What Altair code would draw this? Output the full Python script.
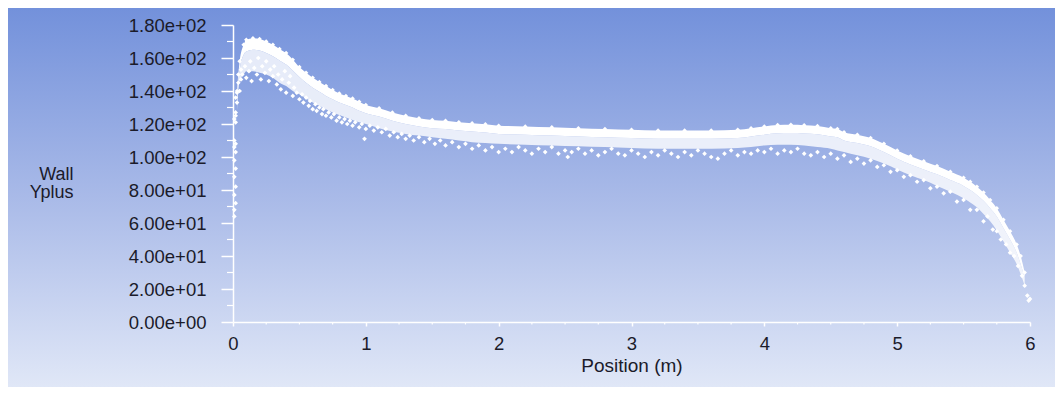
import altair as alt
import pandas as pd

# ---------------- data ----------------
# band of wall y+ values: upper edge, lower edge of the dense part, lower edge of the band
band_pos = [0.03, 0.05, 0.08, 0.10, 0.15, 0.20, 0.25, 0.30, 0.35, 0.40, 0.45, 0.50,
            0.55, 0.60, 0.65, 0.70, 0.75, 0.80, 0.85, 0.90, 0.95, 1.00, 1.10, 1.20,
            1.30, 1.40, 1.50, 1.60, 1.70, 1.80, 1.90, 2.00, 2.20, 2.40, 2.60, 2.80,
            3.00, 3.20, 3.40, 3.60, 3.80, 3.90, 4.00, 4.10, 4.20, 4.30, 4.40, 4.50,
            4.55, 4.60, 4.70, 4.80, 4.90, 5.00, 5.10, 5.20, 5.30, 5.40, 5.50, 5.55,
            5.60, 5.65, 5.70, 5.75, 5.80, 5.85, 5.90, 5.93, 5.96]
band_top = [140, 158, 168, 171, 172, 171.5, 170, 168, 165.5, 163, 159, 154.5,
            151, 148, 145.5, 143, 140.6, 138.5, 137, 135.5, 133.5, 131.5, 129.5, 127,
            125, 123.5, 122.5, 122, 121, 120.5, 119.8, 119, 118.5, 118, 117.5, 117,
            116.5, 116, 116, 116, 116.5, 117.5, 118.5, 119.4, 119.5, 119.3, 118.8, 117.5,
            117, 115, 113.5, 111.5, 108, 104, 100.5, 97.5, 94.5, 91, 87.5, 85,
            82, 78.5, 74, 69, 62, 55, 47, 40, 30]
band_mid = [136, 153, 162, 164, 165, 164.5, 163, 161, 158.5, 156, 152.5, 148.5,
            145, 142, 139.5, 137, 135, 133, 131.5, 130, 128, 126.5, 124.5, 122,
            120, 118.5, 117.5, 117, 116, 115.5, 114.8, 114, 113.5, 113, 112.5, 112,
            111.5, 111, 111, 111, 111.5, 112.5, 113.5, 114.4, 114.5, 114.3, 113.8, 112.5,
            112, 110, 108.5, 106.5, 103, 99, 95.5, 92.5, 89.5, 86, 82.5, 80,
            77, 73.5, 69, 64, 57, 50, 42, 35, 27]
band_low = [128, 146, 150, 152, 152, 151, 150, 148, 145, 143, 140, 138,
            135.5, 133, 131, 129, 127, 125.5, 124, 122.5, 121, 120, 117.5, 115.5,
            114, 113, 112, 111, 110, 109, 108.5, 108, 107.5, 107, 106.5, 106,
            105.5, 105, 105, 105, 105.5, 106, 107, 107.5, 107.5, 107, 106, 105,
            104, 103, 101, 99, 96, 92.5, 89, 86, 82.5, 79, 75, 72.5,
            69.5, 65.5, 61, 55.5, 49, 42, 35, 29, 22]

# scattered points below the band
speck_x = [0.01, 0.01, 0.02, 0.01, 0.02, 0.01, 0.02, 0.01, 0.02, 0.01, 0.02, 0.01,
           0.02, 0.01, 0.02, 0.02, 0.03, 0.02, 0.03, 0.04, 0.04, 0.05, 0.06, 0.06,
           0.07, 0.09, 0.10, 0.12, 0.13, 0.14, 0.16, 0.18, 0.19, 0.21, 0.22, 0.24,
           0.25, 0.27, 0.28, 0.30, 0.31, 0.33, 0.34, 0.36, 0.37, 0.39, 0.40, 0.42,
           0.43, 0.45, 0.46, 0.48, 0.50, 0.52, 0.53, 0.55, 0.57, 0.58, 0.60, 0.62,
           0.63, 0.65, 0.67, 0.68, 0.70, 0.72, 0.74, 0.76, 0.78, 0.80, 0.82, 0.84,
           0.86, 0.88, 0.90, 0.92, 0.95, 0.97, 0.99, 1.00, 1.03, 1.06, 1.09, 1.12,
           1.15, 1.18, 1.21, 1.24, 1.27, 1.30, 1.33, 1.36, 1.40, 1.44, 1.48, 1.52,
           1.56, 1.60, 1.65, 1.70, 1.75, 1.80, 1.85, 1.90, 1.95, 2.00, 2.05, 2.10,
           2.15, 2.20, 2.25, 2.30, 2.35, 2.40, 2.45, 2.50, 2.52, 2.55, 2.60, 2.65,
           2.70, 2.75, 2.80, 2.85, 2.90, 2.95, 3.00, 3.05, 3.10, 3.15, 3.20, 3.25,
           3.30, 3.35, 3.40, 3.45, 3.50, 3.55, 3.60, 3.65, 3.70, 3.75, 3.80, 3.85,
           3.90, 3.95, 4.00, 4.05, 4.10, 4.15, 4.20, 4.25, 4.30, 4.35, 4.40, 4.45,
           4.50, 4.55, 4.60, 4.65, 4.70, 4.75, 4.80, 4.85, 4.90, 4.95, 5.00, 5.05,
           5.10, 5.15, 5.20, 5.25, 5.30, 5.35, 5.40, 5.45, 5.50, 5.55, 5.60, 5.65,
           5.68, 5.72, 5.75, 5.78, 5.82, 5.85, 5.88, 5.91, 5.94, 5.96, 5.98, 6.00,
           5.99]
speck_y = [64, 68, 72, 77, 82, 88, 93, 98, 103, 106, 108, 110,
           121, 123, 125, 127, 133, 136, 139, 145, 150, 140, 153, 147,
           150, 155, 148, 152, 158, 146, 154, 150, 160, 147, 155, 151,
           158, 146, 153, 149, 155, 144, 150, 141, 147, 152, 139, 145,
           149, 137, 142, 139, 135, 138, 133, 136, 131, 134, 129, 132,
           128, 130, 126, 129, 125, 127, 124, 126, 122, 124, 121, 123,
           120, 122, 119, 121, 118, 120, 111, 117, 119, 116, 118, 115,
           117, 113, 115, 112, 114, 111, 113, 110, 112, 109, 111, 108,
           110, 107, 109, 106, 108, 105, 107, 104, 106, 103, 105, 103,
           106, 104, 102, 105, 103, 106, 102, 104, 100, 103, 105, 102,
           104, 101, 103, 105, 102, 101, 104, 102, 100, 103, 101, 104,
           102, 100, 103, 101, 104, 102, 100, 99, 102, 104, 101, 103,
           102, 104, 103, 105, 102, 104, 103, 105, 102, 101, 103, 100,
           102, 99, 101, 97, 99, 96, 98, 94, 95, 91, 92, 88,
           89, 85, 86, 81, 82, 78, 79, 73, 74, 68, 68, 61,
           64, 56, 55, 50, 47, 42, 40, 34, 28, 22, 16, 14,
           13]

# axis ticks and labels
x_ticks = [0, 1, 2, 3, 4, 5, 6]
x_minor = [0.25, 0.5, 0.75, 1.25, 1.5, 1.75, 2.25, 2.5, 2.75, 3.25, 3.5, 3.75,
           4.25, 4.5, 4.75, 5.25, 5.5, 5.75]
y_ticks = [0, 20, 40, 60, 80, 100, 120, 140, 160, 180]
y_tick_labels = ["0.00e+00", "2.00e+01", "4.00e+01", "6.00e+01", "8.00e+01",
                 "1.00e+02", "1.20e+02", "1.40e+02", "1.60e+02", "1.80e+02"]
y_minor = [10, 30, 50, 70, 90, 110, 130, 150, 170]

# ---------------- build chart ----------------
band_df = pd.DataFrame({"pos": band_pos, "top": band_top, "mid": band_mid, "low": band_low})
speck_df = pd.DataFrame({"pos": speck_x, "top": speck_y})
xminor_df = pd.DataFrame({"pos": x_minor})
yminor_df = pd.DataFrame({"top": y_minor})

label_expr = " : ".join(
    f"datum.value == {v} ? '{t}'" for v, t in zip(y_ticks, y_tick_labels)
) + " : ''"

FONT = "Liberation Sans"
TEXT = "#1b1b2a"

x_scale = alt.Scale(domain=[0, 6], nice=False, zero=False)
y_scale = alt.Scale(domain=[0, 180], nice=False)

x_axis = alt.Axis(
    values=x_ticks, format="d", title="Position (m)", grid=False,
    domainColor="white", domainWidth=1.5, tickColor="white", tickWidth=1.5,
    tickSize=4, labelPadding=23, labelBaseline="alphabetic", labelFlush=False,
    labelOverlap=False, labelFont=FONT, labelFontSize=18.5, labelColor=TEXT,
    titleFont=FONT, titleFontSize=19, titleFontWeight="normal", titleColor=TEXT,
    titleBaseline="alphabetic", titleY=49.5, zindex=1,
)
y_axis = alt.Axis(
    values=y_ticks, labelExpr=label_expr, title=["Wall", "Yplus"], grid=False,
    domainColor="white", domainWidth=1.5, tickColor="white", tickWidth=1.5,
    tickSize=12, labelPadding=15, labelOverlap=False, labelFont=FONT,
    labelFontSize=18.5, labelColor=TEXT, titleFont=FONT, titleFontSize=18,
    titleFontWeight="normal", titleColor=TEXT, titleAngle=0, titleAlign="right",
    titleBaseline="alphabetic", titleX=-160, titleY=154, titleLineHeight=18,
    zindex=1,
)

gradient = {
    "gradient": "linear", "x1": 0, "y1": 0, "x2": 0, "y2": 1,
    "stops": [
        {"offset": 0, "color": "#7391db"},
        {"offset": 0.5, "color": "#a9bae8"},
        {"offset": 1, "color": "#e0e7f7"},
    ],
}

bg = alt.Chart(pd.DataFrame({"a": [0]})).mark_rect(fill=gradient, strokeWidth=0).encode(
    x=alt.value(-225), x2=alt.value(830), y=alt.value(-17), y2=alt.value(362)
)

yminor = alt.Chart(yminor_df).mark_rule(color="white", strokeWidth=1.2).encode(
    y=alt.Y("top:Q", scale=y_scale, axis=y_axis),
    x=alt.value(-6), x2=alt.value(0),
)
xminor = alt.Chart(xminor_df).mark_rule(color="white", strokeWidth=1.2).encode(
    x=alt.X("pos:Q", scale=x_scale, axis=x_axis),
    y=alt.value(297), y2=alt.value(299.5),
)

area_low = alt.Chart(band_df).mark_area(color="white", opacity=0.8,
                                        interpolate="monotone").encode(
    x=alt.X("pos:Q", scale=x_scale, axis=x_axis),
    y=alt.Y("mid:Q", scale=y_scale, axis=y_axis),
    y2="low:Q",
)

area_top = alt.Chart(band_df).mark_area(color="white", opacity=1,
                                        interpolate="monotone").encode(
    x=alt.X("pos:Q", scale=x_scale, axis=x_axis),
    y=alt.Y("top:Q", scale=y_scale, axis=y_axis),
    y2="mid:Q",
)

edge = alt.Chart(band_df).mark_point(shape="diamond", filled=True, color="white",
                                     size=20, opacity=1).encode(
    x=alt.X("pos:Q", scale=x_scale, axis=x_axis),
    y=alt.Y("top:Q", scale=y_scale, axis=y_axis),
)

specks = alt.Chart(speck_df).mark_point(shape="diamond", filled=True, color="white",
                                        size=22, opacity=1).encode(
    x=alt.X("pos:Q", scale=x_scale, axis=x_axis),
    y=alt.Y("top:Q", scale=y_scale, axis=y_axis),
)

chart = alt.layer(bg, yminor, xminor, area_low, area_top, edge, specks).properties(
    width=797, height=297,
    autosize="none",
    padding={"left": 225, "top": 17, "right": 25, "bottom": 65},
).configure_view(stroke=None).configure(background="white")

chart.save("out.html", embed_options={"renderer": "svg", "actions": False})
